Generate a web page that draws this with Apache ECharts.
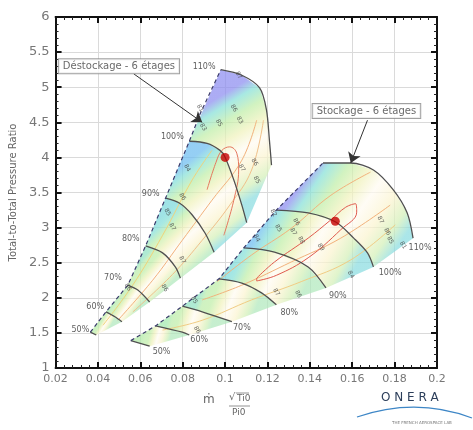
<!DOCTYPE html>
<html><head><meta charset="utf-8">
<script src="https://cdn.jsdelivr.net/npm/echarts@6/dist/echarts.min.js"></script>
<style>html,body{margin:0;padding:0;background:#fff}#c{width:473px;height:430px}</style>
</head><body><div id="c"></div>
<script>
// ---------- Déstockage - 6 étages (speed lines, surge -> choke) ----------
const d50 = [[0.0364,1.51],[0.0392,1.47]];
const d60 = [[0.0438,1.80],[0.0480,1.73],[0.0513,1.66]];
const d70 = [[0.0541,2.18],[0.0588,2.11],[0.0644,1.94]];
const d80 = [[0.0625,2.74],[0.0705,2.64],[0.0765,2.44],[0.0789,2.28]];
const d90 = [[0.0719,3.42],[0.0784,3.35],[0.0845,3.18],[0.0906,2.92],[0.0948,2.65]];
const d100 = [[0.0831,4.23],[0.0915,4.20],[0.0976,4.10],[0.0999,4.01],[0.1041,3.68],[0.1079,3.32],[0.1102,3.07]];
const d110 = [[0.0980,5.25],[0.1079,5.17],[0.1163,4.99],[0.1195,4.68],[0.1209,4.25],[0.1219,3.89]];
const dSurge = [[0.0364,1.51],[0.0438,1.80],[0.0541,2.18],[0.0625,2.74],[0.0719,3.42],[0.0831,4.23],[0.0882,4.62],[0.0980,5.25]];
const dPeak = [0.1, 4.0];
const dSpeedLabels = [[0.0317,1.54,'50%'],[0.0387,1.87,'60%'],[0.0471,2.28,'70%'],[0.0555,2.84,'80%'],[0.0649,3.48,'90%'],[0.0751,4.29,'100%'],[0.0901,5.29,'110%']];
// efficiency contours
const dRed = [[0.0915,3.54],[0.0957,3.93],[0.0985,4.10],[0.1022,4.15],[0.1055,4.06],[0.1064,3.82],[0.1041,3.39],[0.0994,2.89]];
const dOr1 = [[0.0424,1.61],[0.0564,2.18],[0.0705,2.89],[0.0845,3.68],[0.0938,4.10]];
const dOr2 = [[0.0494,1.68],[0.0658,2.25],[0.0798,2.82],[0.0938,3.39],[0.1079,3.96],[0.1149,4.53]];
const dOr3 = [[0.0565,1.80],[0.0751,2.33],[0.0892,2.82],[0.1022,3.32],[0.1125,3.82],[0.1181,4.53]];
const dEffLabels = [[0.0821,3.85,'84'],[0.0896,4.43,'83'],[0.0882,4.70,'81'],[0.0971,4.49,'85'],[0.1041,4.70,'86'],[0.1069,4.53,'83'],[0.1064,5.17,'87'],[0.1079,3.85,'87'],[0.1139,3.93,'86'],[0.1149,3.68,'85'],[0.0798,3.44,'86'],[0.0728,3.22,'85'],[0.0751,3.01,'87'],[0.0798,2.54,'87'],[0.0714,2.14,'86'],[0.0541,2.15,'86']];

// ---------- Stockage - 6 étages ----------
const s50 = [[0.0555,1.39],[0.0644,1.31]];
const s60 = [[0.0672,1.60],[0.0798,1.51],[0.0831,1.47]];
const s70 = [[0.0798,1.88],[0.0892,1.80],[0.1032,1.66]];
const s80 = [[0.0971,2.27],[0.1079,2.21],[0.1172,2.07],[0.1242,1.90]];
const s90 = [[0.1088,2.71],[0.1233,2.65],[0.1392,2.44],[0.1476,2.14]];
const s100 = [[0.1242,3.25],[0.1392,3.21],[0.1522,3.08],[0.1607,2.85],[0.1672,2.64],[0.1700,2.44]];
const s110 = [[0.1462,3.92],[0.1593,3.92],[0.1700,3.82],[0.1793,3.54],[0.1859,3.21],[0.1887,2.85]];
const sSurge = [[0.0555,1.39],[0.0672,1.60],[0.0798,1.88],[0.0971,2.27],[0.1088,2.71],[0.1242,3.25],[0.1462,3.92]];
const sPeak = [0.152, 3.09];
const sSpeedLabels = [[0.0700,1.23,'50%'],[0.0878,1.40,'60%'],[0.1079,1.57,'70%'],[0.1303,1.78,'80%'],[0.1532,2.03,'90%'],[0.1779,2.35,'100%'],[0.1920,2.71,'110%']];
const sRed = [[0.1149,2.28],[0.1233,2.51],[0.1392,2.85],[0.1499,3.11],[0.1569,3.29],[0.1616,3.34],[0.1621,3.22],[0.1546,2.97],[0.1392,2.57],[0.1242,2.32],[0.1149,2.24],[0.1149,2.28]];
const sOr1 = [[0.0962,2.23],[0.1125,2.61],[0.1312,2.99],[0.1499,3.46],[0.1686,3.79]];
const sOr2 = [[0.0892,1.97],[0.1079,2.18],[0.1312,2.51],[0.1546,2.85],[0.1779,3.32]];
const sOr3 = [[0.0705,1.54],[0.0892,1.68],[0.1125,1.97],[0.1359,2.23],[0.1593,2.54],[0.1803,3.04]];
const sEffLabels = [[0.1149,2.85,'84'],[0.1251,2.99,'85'],[0.1336,3.08,'86'],[0.1322,2.94,'87'],[0.1359,2.82,'88'],[0.1452,2.72,'89'],[0.1593,2.33,'84'],[0.1733,3.11,'87'],[0.1765,2.94,'86'],[0.1779,2.82,'85'],[0.1840,2.75,'81'],[0.1228,3.21,'82'],[0.1242,2.08,'87'],[0.1345,2.05,'86'],[0.0854,1.97,'85'],[0.0868,1.54,'86']];

// annotations
const annoText = [[0.0499,5.30,'Déstockage - 6 étages'],[0.1667,4.66,'Stockage - 6 étages']];
const annoArrows = [[[0.0569,5.19],[0.0892,4.50]],[[0.1672,4.53],[0.1593,3.92]]];

const dLines = [d50,d60,d70,d80,d90,d100,d110];
const sLines = [s50,s60,s70,s80,s90,s100,s110];

const surgeCols = ['#b0eaa6','#a2e8ae','#90e2c2','#7ad8dc','#6cbcf0','#8c8cf0'];
function buildCells(lines){
  const cells=[];
  for(let i=0;i<lines.length-1;i++){
    const A=lines[i],B=lines[i+1];
    const poly=A.concat(B.slice().reverse());
    const s=[(A[0][0]+B[0][0])/2,(A[0][1]+B[0][1])/2];
    const e=[(A[A.length-1][0]+B[B.length-1][0])/2,(A[A.length-1][1]+B[B.length-1][1])/2];
    cells.push({poly,s,e,level:i});
  }
  return cells;
}
const cells = buildCells(dLines).concat(buildCells(sLines));

const chart = echarts.init(document.getElementById('c'), null, {renderer:'canvas'});
const FONT = 'DejaVu Sans';
const axisCommon = {
  type:'value',
  axisLine:{show:true,onZero:false,lineStyle:{color:'#111',width:2}},
  axisTick:{show:true,inside:true,length:6,lineStyle:{color:'#111',width:2}},
  minorTick:{show:true,splitNumber:5,length:3,lineStyle:{color:'#222',width:1}},
  minorSplitLine:{show:false}
};
const series = [];
series.push({
  type:'custom', z:1, silent:true,
  data: cells.map(c=>c.s),
  renderItem:function(params, api){
    const c = cells[params.dataIndex];
    const pts = c.poly.map(p=>api.coord(p));
    const a = api.coord(c.s), b = api.coord(c.e);
    const L=c.level;
    const stops=[
      {offset:0,color:surgeCols[L]},
      {offset:0.1,color:L>=3?'#86e0d8':'#bcecaa'},
      {offset:0.24,color:'#c0eea8'},
      {offset:0.4,color:'#f0f2bc'},
      {offset:0.55,color:'#fffbf2'},
      {offset:0.72,color:'#fbf4d0'},
      {offset:0.88,color:'#d4f0b8'},
      {offset:1,color:L>=4?'#8adce0':'#b0e8bc'}
    ];
    return {type:'polygon', shape:{points:pts},
      style:{fill:new echarts.graphic.LinearGradient(a[0],a[1],b[0],b[1],stops,true), opacity:0.72}};
  }
});
function contour(data,color){
  series.push({type:'line',data,smooth:0.4,symbol:'none',silent:true,z:2,lineStyle:{color,width:1}});
}
contour(dOr1,'#f1d27a'); contour(dOr2,'#f2b27c'); contour(dOr3,'#f0c08a'); contour(dRed,'#e5775e');
contour(sOr1,'#f2b27c'); contour(sOr2,'#f2b27c'); contour(sOr3,'#f1cc84'); contour(sRed,'#e05a4e');
dLines.concat(sLines).forEach(l=>{
  series.push({type:'line',data:l,smooth:0.3,symbol:'none',silent:true,z:3,lineStyle:{color:'#505050',width:1.3}});
});
[dSurge,sSurge].forEach(l=>{
  series.push({type:'line',data:l,symbol:'none',silent:true,z:4,lineStyle:{color:'#3a3a6a',width:1.2,type:[4,3]}});
});
series.push({type:'scatter',data:[dPeak,sPeak],symbolSize:9,z:6,itemStyle:{color:'#c40000'},silent:true});
series.push({type:'scatter',data:dSpeedLabels.concat(sSpeedLabels),symbolSize:0,z:5,silent:true,
  label:{show:true,position:'inside',formatter:p=>p.data[2],fontSize:8,color:'#333',fontFamily:FONT}});
series.push({type:'scatter',data:dEffLabels.concat(sEffLabels),symbolSize:0,z:5,silent:true,
  label:{show:true,position:'inside',formatter:p=>p.data[2],fontSize:6,color:'#444',rotate:-60,fontFamily:FONT}});
series.push({type:'lines',coordinateSystem:'cartesian2d',z:7,silent:true,
  data:annoArrows.map(a=>({coords:a})),symbol:['none','arrow'],symbolSize:10,
  lineStyle:{color:'#333',width:1,opacity:1}});
series.push({type:'scatter',data:annoText,symbolSize:0,z:8,silent:true,
  label:{show:true,position:'inside',formatter:p=>p.data[2],fontSize:10,color:'#444',fontFamily:FONT,
    backgroundColor:'#fff',borderColor:'#888',borderWidth:1,padding:[2,4]}});

chart.setOption({
  animation:false,
  backgroundColor:'#fff',
  grid:{left:52,right:36,top:17,bottom:62},
  xAxis:[
    Object.assign({},axisCommon,{position:'bottom',min:0.02,max:0.2,interval:0.02,
      splitLine:{show:true,lineStyle:{color:'#dadada',width:1}},
      axisLabel:{color:'#777',fontSize:11,margin:6,fontFamily:FONT,formatter:v=>String(+v.toFixed(2))}}),
    Object.assign({},axisCommon,{position:'top',min:0.02,max:0.2,interval:0.02,axisLabel:{show:false},splitLine:{show:false}})
  ],
  yAxis:[
    Object.assign({},axisCommon,{position:'left',min:1,max:6,interval:0.5,
      splitLine:{show:true,lineStyle:{color:'#dadada',width:1}},
      axisLabel:{color:'#777',fontSize:13,margin:6,fontFamily:FONT,formatter:v=>String(+v.toFixed(1))},
      name:'Total-to-Total Pressure Ratio',nameLocation:'middle',nameGap:33,
      nameTextStyle:{color:'#666',fontSize:10,fontFamily:FONT}}),
    Object.assign({},axisCommon,{position:'right',min:1,max:6,interval:0.5,axisLabel:{show:false},splitLine:{show:false}})
  ],
  series:series,
  graphic:[
    {type:'text',left:203,top:394,style:{text:'ṁ',fontSize:12,fill:'#666',fontFamily:FONT}},
    {type:'text',left:229,top:392,style:{text:'√',fontSize:10,fill:'#666',fontFamily:FONT}},
    {type:'line',shape:{x1:236,y1:393,x2:249,y2:393},style:{stroke:'#777',lineWidth:0.8}},
    {type:'text',left:237,top:394,style:{text:'Ti0',fontSize:9,fill:'#666',fontFamily:FONT}},
    {type:'line',shape:{x1:229,y1:406,x2:250,y2:406},style:{stroke:'#777',lineWidth:0.8}},
    {type:'text',left:232,top:408,style:{text:'Pi0',fontSize:9,fill:'#666',fontFamily:FONT}},
    {type:'text',left:381,top:392,style:{text:'O N E R A',fontSize:12,fill:'#2c3e5a',fontFamily:FONT}},
    {type:'bezierCurve',shape:{x1:357,y1:417,x2:472,y2:418,cpx1:395,cpy1:404,cpx2:435,cpy2:404},style:{stroke:'#3d86c6',lineWidth:1.2,fill:'none'}},
    {type:'text',left:392,top:421,style:{text:'THE FRENCH AEROSPACE LAB',fontSize:4,fill:'#777',fontFamily:FONT}}
  ]
});
</script></body></html>
